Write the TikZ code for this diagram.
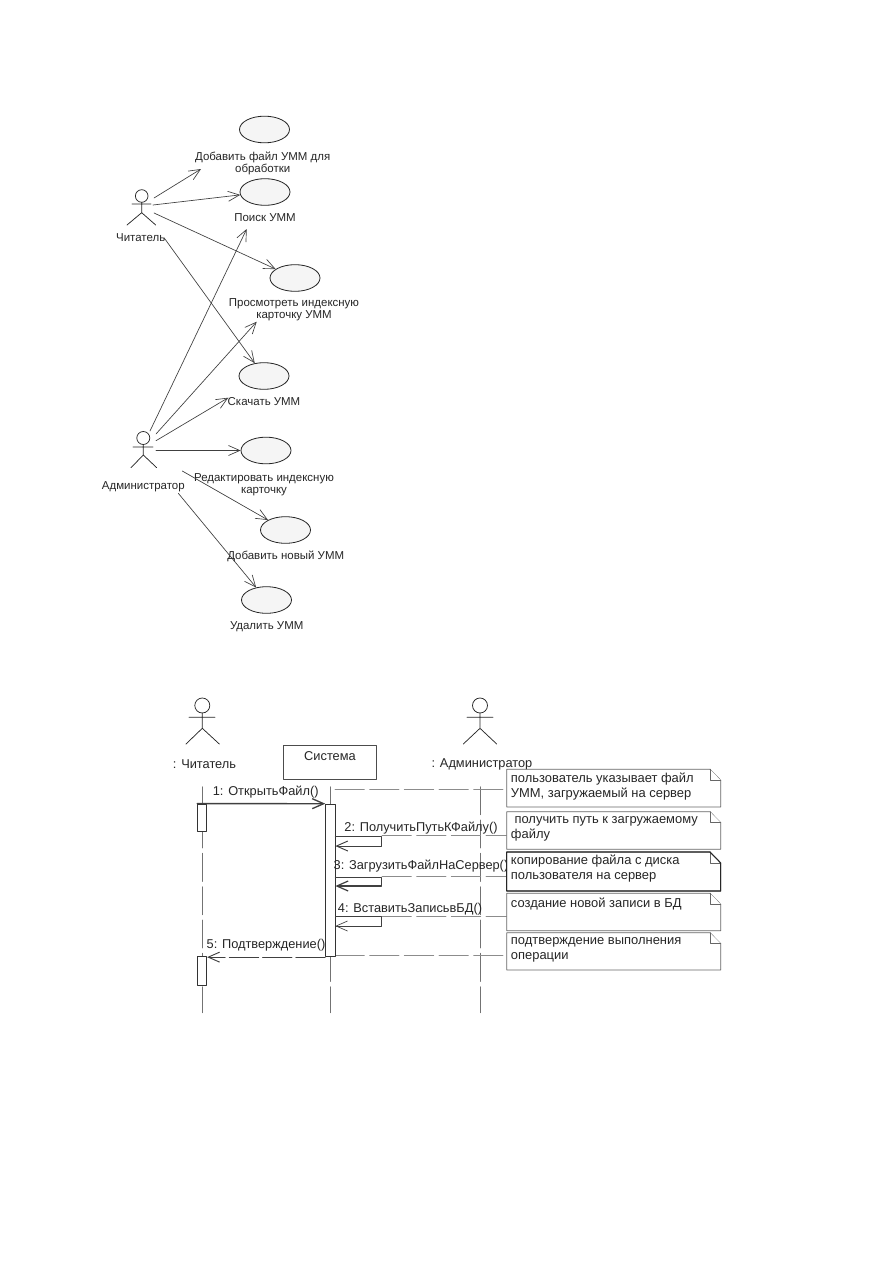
\documentclass[tikz,border=0pt]{standalone}
\usepackage{fontspec}
\setmainfont{Liberation Sans}
\usetikzlibrary{arrows.meta,calc,shapes.geometric}

\begin{document}
\begin{tikzpicture}[
  x=0.75pt,y=-0.75pt,
  >={Straight Barb[length=8.5pt,width=7.5pt]},
  line cap=round,
  line join=round,
  every node/.style={inner sep=0pt},
  caption/.style={font=\fontsize{8.6}{9}\selectfont,align=center,text=black!85},
  seqcaption/.style={font=\fontsize{9.6}{10}\selectfont,text=black!85},
  msg/.style={font=\fontsize{9.6}{10}\selectfont,text=black!85},
  notetext/.style={font=\fontsize{9.7}{11.25}\selectfont,align=left,anchor=west,text=black!85},
  usecase/.style={ellipse,draw=black!85,fill=black!4,line width=0.6pt,minimum width=37.5pt,minimum height=20pt},
  assoc/.style={->,draw=black!75,line width=0.5pt},
  figure/.style={draw=black!85,line width=0.55pt},
  lifeline/.style={draw=black!55,line width=0.6pt,dash pattern=on 21pt off 4pt},
  attach/.style={draw=black!45,line width=0.6pt,dash pattern=on 22pt off 4pt},
  bar/.style={draw=black!80,fill=white,line width=0.6pt},
  call/.style={->,draw=black!75,line width=0.7pt},
  sheet/.style={draw=black!60,fill=white,line width=0.6pt}
]
\useasboundingbox (0,0) rectangle (893,1263);
\fill[white] (0,0) rectangle (893,1263);

% ------------------------------------------------------------------
% Use cases
% ------------------------------------------------------------------
\begin{scope}
  \node[usecase] (UC1) at (264.5,129.5) {};
  \node[usecase] (UC2) at (265,192) {};
  \node[usecase] (UC3) at (295,278) {};
  \node[usecase] (UC4) at (264,376) {};
  \node[usecase] (UC5) at (266,450.5) {};
  \node[usecase] (UC6) at (285.5,530) {};
  \node[usecase] (UC7) at (266.5,600) {};

  \node[caption] (L1) at (262.7,163) {Добавить файл УММ для\\обработки};
  \node[caption] (L2) at (265,218) {Поиск УММ};
  \node[caption] (L3) at (294,310) {Просмотреть индексную\\карточку УММ};
  \node[caption] (L4) at (264,402) {Скачать УММ};
  \node[caption] (L5) at (264,484.5) {Редактировать индексную\\карточку};
  \node[caption] (L6) at (285.7,556) {Добавить новый УММ};
  \node[caption] (L7) at (266.7,627) {Удалить УММ};

  % reader
  \draw[figure] (141.7,196) circle (6.3);
  \draw[figure] (132,204)--(151,204) (141.7,202.3)--(141.7,212.7) (127,225)--(141.7,212.7)--(155.7,225);
  \node[caption] (Rdr) at (140.7,238) {Читатель};

  % administrator
  \draw[figure] (143.3,438) circle (6.5);
  \draw[figure] (133,447)--(153,447) (143.3,444.5)--(143.3,455) (131,467.7)--(143.3,455)--(156.7,467.7);
  \node[caption] (Adm) at (143.3,487) {Администратор};

  \coordinate (R1) at (154,198);
  \coordinate (R2) at (153,205);
  \coordinate (R3) at (154,213);
  \coordinate (R4) at (164,237.7);
  \coordinate (A1) at (150,431);
  \coordinate (A2) at (156,434);
  \coordinate (A3) at (156,440.7);
  \coordinate (A4) at (156,450.5);
  \coordinate (A5) at (182.3,471);
  \coordinate (A6) at (178.3,493.3);
  \coordinate (T1) at (201,169);
  \coordinate (T2) at (246.7,229);
  \coordinate (T3) at (256.7,321.7);
  \coordinate (T4) at (228.3,397.7);

  \draw[assoc] (R1)--(T1);
  \draw[assoc] (R2)--(UC2);
  \draw[assoc] (R3)--(UC3);
  \draw[assoc] (R4)--(UC4);
  \draw[assoc] (A1)--(T2);
  \draw[assoc] (A2)--(T3);
  \draw[assoc] (A3)--(T4);
  \draw[assoc] (A4)--(UC5.west);
  \draw[assoc] (A5)--(UC6);
  \draw[assoc] (A6)--(UC7);
\end{scope}

% ------------------------------------------------------------------
% Sequence
% ------------------------------------------------------------------
\begin{scope}
  % reader
  \draw[figure] (202.3,705.5) circle (7.5);
  \draw[figure] (189,717.3)--(215,717.3) (202.3,713)--(202.3,728.3) (186,744)--(202.3,728.3)--(219.3,744);
  \node[seqcaption] (SR) at (204.5,764) {: Читатель};

  % administrator
  \draw[figure] (480,705.5) circle (7.5);
  \draw[figure] (467,717.3)--(493,717.3) (480,713)--(480,728.3) (463.3,744)--(480,728.3)--(496.7,744);
  \node[seqcaption] (SA) at (482,764) {: Администратор};

  \node[draw=black!70,line width=0.6pt,minimum width=69.7pt,minimum height=25.2pt] (Sys) at (330.2,762.5) {};
  \node[seqcaption] (SysL) at (330,756.5) {Система};

  % lifelines
  \coordinate (LA0) at (202.3,786.7);
  \coordinate (LA1) at (202.3,1012.7);
  \coordinate (LB0) at (330,786.7);
  \coordinate (LB1) at (330,1012.7);
  \coordinate (LC0) at (480,786.7);
  \coordinate (LC1) at (480,1012.7);
  \draw[lifeline] (LA0)--(LA1);
  \draw[lifeline] (LB0)--(LB1);
  \draw[lifeline] (LC0)--(LC1);

  % note attachments
  \foreach \y/\x in {789/335,835.7/382,876.7/382,916.7/382,955/335}
    \draw[attach] (\x,\y)--(506.7,\y);

  % activations
  \node[bar,minimum width=6.8pt,minimum height=20.8pt] (Act1) at (202.2,817.9) {};
  \node[bar,minimum width=6.8pt,minimum height=21.4pt] (Act2) at (202.2,970.9) {};
  \node[bar,minimum width=7pt,minimum height=114.5pt] (Act3) at (330.3,880.4) {};

  % messages
  \draw[call,line width=1pt] (Act1.north west)--(Act3.north west);
  \coordinate (C2) at (381.7,836);
  \coordinate (D2) at (381.7,846);
  \coordinate (C3) at (381.7,877.3);
  \coordinate (D3) at (381.7,886);
  \coordinate (C4) at (381.7,916.7);
  \coordinate (D4) at (381.7,926);
  \draw[call] (Act3.east |- C2)--(C2)--(D2)--(Act3.east |- D2);
  \draw[call,line width=0.9pt] (Act3.east |- C3)--(C3)--(D3)--(Act3.east |- D3);
  \draw[call,line width=0.5pt] (Act3.east |- C4)--(C4)--(D4)--(Act3.east |- D4);
  \draw[call,dash pattern=on 22pt off 3pt] (Act3.south west)--(Act2.east |- Act3.south);

  \node[msg] (M1) at (265.7,792.5) {1: ОткрытьФайл()};
  \node[msg] (M2) at (421,828) {2: ПолучитьПутьКФайлу()};
  \node[msg] (M3) at (421,866.5) {3: ЗагрузитьФайлНаСервер()};
  \node[msg] (M4) at (410,909) {4: ВставитьЗаписьвБД()};
  \node[msg] (M5) at (266,945) {5: Подтверждение()};

  % notes
  \foreach \n/\t/\b in {1/769.3/807,2/811.7/849.3,3/852/891,4/893.3/930.7,5/932.7/970}{
    \draw[sheet] (506.7,\t)--(710,\t)--(720.7,{\t+11})--(720.7,\b)--(506.7,\b)--cycle;
    \draw[sheet] (710,\t)--(710,{\t+11})--(720.7,{\t+11});
  }
  \draw[black!85,line width=0.8pt] (506.7,852)--(710,852)--(720.7,863)--(720.7,891)--(506.7,891)--cycle;

  \node[notetext] (N1) at (510.7,786.3) {пользователь указывает файл\\УММ, загружаемый на сервер};
  \node[notetext] (N2) at (510.7,829) {\ получить путь к загружаемому\\файлу};
  \node[notetext] (N3) at (510.7,869) {копирование файла с диска\\пользователя на сервер};
  \node[notetext] (N4) at (510.7,903.8) {создание новой записи в БД};
  \node[notetext] (N5) at (510.7,950.3) {подтверждение выполнения\\операции};
\end{scope}

\end{tikzpicture}
\end{document}
